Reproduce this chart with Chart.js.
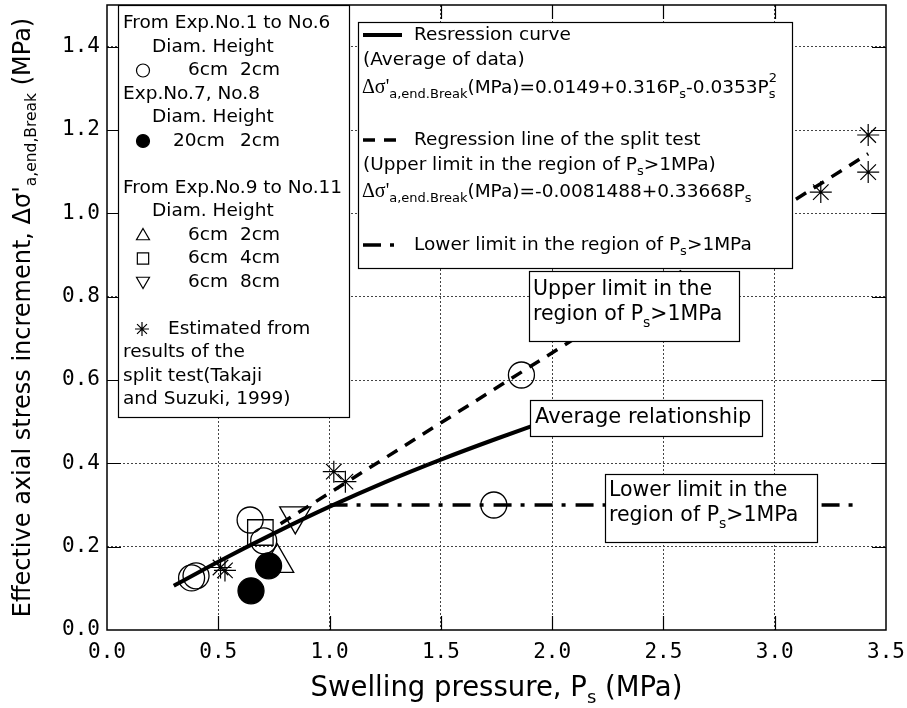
<!DOCTYPE html>
<html>
<head>
<meta charset="utf-8">
<script src="https://cdn.jsdelivr.net/npm/chart.js@4.4.0/dist/chart.umd.min.js"></script>
<style>
  body { margin: 0; background: #fff; }
</style>
</head>
<body>
<canvas id="chart" width="907" height="708"></canvas>
<script>
// axis ticks
const xTickValues = [0, 0.5, 1.0, 1.5, 2.0, 2.5, 3.0, 3.5];
const yTickValues = [0, 0.2, 0.4, 0.6, 0.8, 1.0, 1.2, 1.4];

// Exp.No.1 - No.6 (6cm / 2cm)
const openCircleX = [0.38, 0.40, 0.643, 0.704, 1.738, 1.862];
const openCircleY = [0.125, 0.130, 0.264, 0.214, 0.300, 0.612];
// Exp.No.7, No.8 (20cm / 2cm)
const filledCircleX = [0.647, 0.726];
const filledCircleY = [0.094, 0.154];
// Exp.No.9 - No.11
const triUpX = [0.765];
const triUpY = [0.161];
const squareX = [0.689];
const squareY = [0.234];
const triDownX = [0.846];
const triDownY = [0.274];
// estimated from split test
const starX = [0.51, 0.53, 1.019, 1.071, 3.207, 3.42, 3.42];
const starY = [0.150, 0.143, 0.380, 0.356, 1.051, 1.099, 1.188];

// lines
const avgCurveX = [0.30, 0.50, 0.75, 1.00, 1.25, 1.50, 1.75, 1.95];
const avgCurveY = [0.106, 0.164, 0.232, 0.296, 0.355, 0.409, 0.459, 0.497];
const upperLineX = [0.78, 3.42];
const upperLineY = [0.255, 1.143];
const lowerLineX = [1.0, 3.38];
const lowerLineY = [0.30, 0.30];

const pts = (xs, ys) => xs.map((x, i) => ({ x: x, y: ys[i] }));

const SANS = 'DejaVu Sans';
const DASH_UP = [12, 9];
const DASH_LOW = [18, 9, 4, 10];

// draw a run of text pieces (for sub/superscripts)
function rich(ctx, x, y, parts) {
  let cx = x;
  parts.forEach(p => {
    ctx.font = (p.s || 18.5) + 'px ' + (p.f || SANS);
    ctx.fillText(p.t, cx, y + (p.dy || 0));
    if (!p.stack) cx += ctx.measureText(p.t).width;
  });
  return cx;
}
function richWidth(ctx, parts) {
  let w = 0;
  parts.forEach(p => {
    ctx.font = (p.s || 18.5) + 'px ' + (p.f || SANS);
    if (!p.stack) w += ctx.measureText(p.t).width;
  });
  return w;
}

function box(ctx, x1, y1, x2, y2) {
  ctx.fillStyle = '#fff';
  ctx.fillRect(x1, y1, x2 - x1, y2 - y1);
  ctx.strokeStyle = '#000';
  ctx.lineWidth = 1.2;
  ctx.strokeRect(x1 + 0.5, y1 + 0.5, x2 - x1, y2 - y1);
  ctx.fillStyle = '#000';
}

function sym(ctx, style, r, x, y, fill, rot) {
  ctx.strokeStyle = '#000';
  ctx.fillStyle = fill ? '#000' : 'rgba(0,0,0,0)';
  ctx.lineWidth = 1.2;
  Chart.helpers.drawPoint(ctx, { pointStyle: style, radius: r, rotation: rot || 0, borderWidth: 1.2 }, x, y);
  ctx.fillStyle = '#000';
}

const decor = {
  id: 'decor',
  afterDatasetsDraw(chart) {
    const { ctx, chartArea: a, scales: { x, y } } = chart;
    ctx.save();
    // inward ticks on all four sides
    ctx.strokeStyle = '#000';
    ctx.lineWidth = 1.2;
    ctx.beginPath();
    xTickValues.slice(1, -1).forEach(v => {
      const px = Math.round(x.getPixelForValue(v)) + 0.5;
      ctx.moveTo(px, a.bottom); ctx.lineTo(px, a.bottom - 14);
      ctx.moveTo(px, a.top); ctx.lineTo(px, a.top + 14);
    });
    yTickValues.slice(1).forEach(v => {
      const py = Math.round(y.getPixelForValue(v)) + 0.5;
      ctx.moveTo(a.left, py); ctx.lineTo(a.left + 14, py);
      ctx.moveTo(a.right, py); ctx.lineTo(a.right - 14, py);
    });
    ctx.stroke();

    ctx.textBaseline = 'middle';
    ctx.textAlign = 'left';

    // left legend
    box(ctx, 118, 5, 349, 417);
    const L = 23.5, t0 = 23.5;
    const row = i => t0 + i * L;
    rich(ctx, 123, row(0), [{ t: 'From Exp.No.1 to No.6' }]);
    rich(ctx, 152, row(1), [{ t: 'Diam. Height' }]);
    sym(ctx, 'circle', 6.5, 143, row(2), false);
    rich(ctx, 188, row(2), [{ t: '6cm' }]);
    rich(ctx, 240, row(2), [{ t: '2cm' }]);
    rich(ctx, 123, row(3), [{ t: 'Exp.No.7, No.8' }]);
    rich(ctx, 152, row(4), [{ t: 'Diam. Height' }]);
    sym(ctx, 'circle', 6.5, 143, row(5), true);
    rich(ctx, 173, row(5), [{ t: '20cm' }]);
    rich(ctx, 240, row(5), [{ t: '2cm' }]);
    rich(ctx, 123, row(7), [{ t: 'From Exp.No.9 to No.11' }]);
    rich(ctx, 152, row(8), [{ t: 'Diam. Height' }]);
    sym(ctx, 'triangle', 7.5, 143, row(9) + 1, false);
    rich(ctx, 188, row(9), [{ t: '6cm' }]);
    rich(ctx, 240, row(9), [{ t: '2cm' }]);
    sym(ctx, 'rect', 8, 143, row(10), false);
    rich(ctx, 188, row(10), [{ t: '6cm' }]);
    rich(ctx, 240, row(10), [{ t: '4cm' }]);
    sym(ctx, 'triangle', 7.5, 143, row(11) - 1, false, 180);
    rich(ctx, 188, row(11), [{ t: '6cm' }]);
    rich(ctx, 240, row(11), [{ t: '8cm' }]);
    sym(ctx, 'star', 7, 142, row(13), false);
    rich(ctx, 168, row(13), [{ t: 'Estimated from' }]);
    rich(ctx, 123, row(14), [{ t: 'results of the' }]);
    rich(ctx, 123, row(15), [{ t: 'split test(Takaji' }]);
    rich(ctx, 123, row(16), [{ t: 'and Suzuki, 1999)' }]);

    // right legend
    box(ctx, 358, 22, 792, 268);
    ctx.strokeStyle = '#000';
    ctx.lineWidth = 4;
    ctx.beginPath(); ctx.moveTo(363, 35); ctx.lineTo(402, 35); ctx.stroke();
    rich(ctx, 414, 35, [{ t: 'Resression curve' }]);
    rich(ctx, 363, 60, [{ t: '(Average of data)' }]);
    const sub = (t) => ({ t: t, s: 13, dy: 7 });
    rich(ctx, 362, 88, [
      { t: 'Δσ\'', s: 20, f: 'Liberation Serif' }, sub('a,end.Break'),
      { t: '(MPa)=0.0149+0.316P' }, sub('s'),
      { t: '-0.0353P' }, { t: 's', s: 13, dy: 7, stack: true }, { t: '2', s: 13, dy: -9 }
    ]);
    ctx.lineWidth = 3.5;
    ctx.setLineDash(DASH_UP);
    ctx.beginPath(); ctx.moveTo(363, 140); ctx.lineTo(399, 140); ctx.stroke();
    rich(ctx, 414, 140, [{ t: 'Regression line of the split test' }]);
    rich(ctx, 363, 165, [{ t: '(Upper limit in the region of P' }, sub('s'), { t: '>1MPa)' }]);
    rich(ctx, 362, 192, [
      { t: 'Δσ\'', s: 20, f: 'Liberation Serif' }, sub('a,end.Break'),
      { t: '(MPa)=-0.0081488+0.33668P' }, sub('s')
    ]);
    ctx.setLineDash(DASH_LOW);
    ctx.beginPath(); ctx.moveTo(363, 245); ctx.lineTo(402, 245); ctx.stroke();
    ctx.setLineDash([]);
    rich(ctx, 414, 245, [{ t: 'Lower limit in the region of P' }, sub('s'), { t: '>1MPa' }]);

    // callout labels
    const sub2 = (t) => ({ t: t, s: 14, dy: 8 });
    box(ctx, 529, 271, 739, 341);
    rich(ctx, 533, 290, [{ t: 'Upper limit in the', s: 20.5 }]);
    rich(ctx, 533, 315, [{ t: 'region of P', s: 20.5 }, sub2('s'), { t: '>1MPa', s: 20.5 }]);
    box(ctx, 530, 400, 762, 436);
    rich(ctx, 535, 418, [{ t: 'Average relationship', s: 21 }]);
    box(ctx, 605, 474, 817, 542);
    rich(ctx, 609, 491, [{ t: 'Lower limit in the', s: 20.5 }]);
    rich(ctx, 609, 516, [{ t: 'region of P', s: 20.5 }, sub2('s'), { t: '>1MPa', s: 20.5 }]);

    // frame
    ctx.strokeStyle = '#000';
    ctx.lineWidth = 1.5;
    ctx.strokeRect(a.left, a.top, a.right - a.left, a.bottom - a.top);
    ctx.restore();
  },
  afterDraw(chart) {
    const { ctx, chartArea: a } = chart;
    ctx.save();
    ctx.fillStyle = '#000';
    ctx.textBaseline = 'middle';
    ctx.textAlign = 'left';
    const xt = [{ t: 'Swelling pressure, P', s: 27.5 }, { t: 's', s: 18, dy: 9 }, { t: ' (MPa)', s: 27.5 }];
    const wx = richWidth(ctx, xt);
    rich(ctx, (a.left + a.right) / 2 - wx / 2, 689, xt);

    const yt = [{ t: 'Effective axial stress increment, Δσ\'', s: 24 }, { t: 'a,end,Break', s: 15.5, dy: 8 }, { t: ' (MPa)', s: 24 }];
    const wy = richWidth(ctx, yt);
    ctx.translate(24, (a.top + a.bottom) / 2);
    ctx.rotate(-Math.PI / 2);
    rich(ctx, -wy / 2, 0, yt);
    ctx.restore();
  }
};

const gridColor = (max) => (c) => (c.tick && (c.tick.value === 0 || c.tick.value === max)) ? 'rgba(0,0,0,0)' : '#444';
const tickFont = { family: 'DejaVu Sans Mono', size: 21 };

new Chart(document.getElementById('chart'), {
  type: 'scatter',
  data: {
    datasets: [
      { type: 'line', data: pts(avgCurveX, avgCurveY), borderColor: '#000', borderWidth: 4,
        pointRadius: 0, cubicInterpolationMode: 'monotone', fill: false },
      { type: 'line', data: pts(upperLineX, upperLineY), borderColor: '#000', borderWidth: 3.5,
        borderDash: DASH_UP, pointRadius: 0, fill: false },
      { type: 'line', data: pts(lowerLineX, lowerLineY), borderColor: '#000', borderWidth: 3.5,
        borderDash: DASH_LOW, pointRadius: 0, fill: false },
      { data: pts(openCircleX, openCircleY), pointStyle: 'circle', pointRadius: 13,
        borderColor: '#000', backgroundColor: 'rgba(0,0,0,0)', borderWidth: 1.3 },
      { data: pts(filledCircleX, filledCircleY), pointStyle: 'circle', pointRadius: 13,
        borderColor: '#000', backgroundColor: '#000', borderWidth: 1.3 },
      { data: pts(triUpX, triUpY), pointStyle: 'triangle', pointRadius: 19,
        borderColor: '#000', backgroundColor: 'rgba(0,0,0,0)', borderWidth: 1.3 },
      { data: pts(squareX, squareY), pointStyle: 'rect', pointRadius: 18,
        borderColor: '#000', backgroundColor: 'rgba(0,0,0,0)', borderWidth: 1.3 },
      { data: pts(triDownX, triDownY), pointStyle: 'triangle', pointRotation: 180, pointRadius: 18,
        borderColor: '#000', backgroundColor: 'rgba(0,0,0,0)', borderWidth: 1.3 },
      { data: pts(starX, starY), pointStyle: 'star', pointRadius: 11,
        borderColor: '#000', backgroundColor: 'rgba(0,0,0,0)', borderWidth: 1.2 }
    ]
  },
  options: {
    responsive: false,
    animation: false,
    layout: { autoPadding: false, padding: { top: 5, right: 21, left: 0, bottom: 0 } },
    plugins: { legend: { display: false }, tooltip: { enabled: false } },
    scales: {
      x: {
        type: 'linear', min: 0, max: 3.5,
        afterBuildTicks: s => { s.ticks = xTickValues.map(v => ({ value: v })); },
        afterFit: s => { s.height = 78; s.paddingLeft = 0; s.paddingRight = 0; },
        grid: { color: gridColor(3.5), lineWidth: 1, drawTicks: false },
        border: { display: false, dash: [2, 2] },
        ticks: { font: tickFont, color: '#000', padding: 10, maxRotation: 0, autoSkip: false,
          callback: v => Number(v).toFixed(1) }
      },
      y: {
        type: 'linear', min: 0, max: 1.5,
        afterBuildTicks: s => { s.ticks = yTickValues.map(v => ({ value: v })); },
        afterFit: s => { s.width = 107; s.paddingTop = 0; s.paddingBottom = 0; },
        grid: { color: gridColor(1.5), lineWidth: 1, drawTicks: false },
        border: { display: false, dash: [2, 2] },
        ticks: { font: tickFont, color: '#000', padding: 7, autoSkip: false,
          callback: v => Number(v).toFixed(1) }
      }
    }
  },
  plugins: [decor]
});
</script>
</body>
</html>
